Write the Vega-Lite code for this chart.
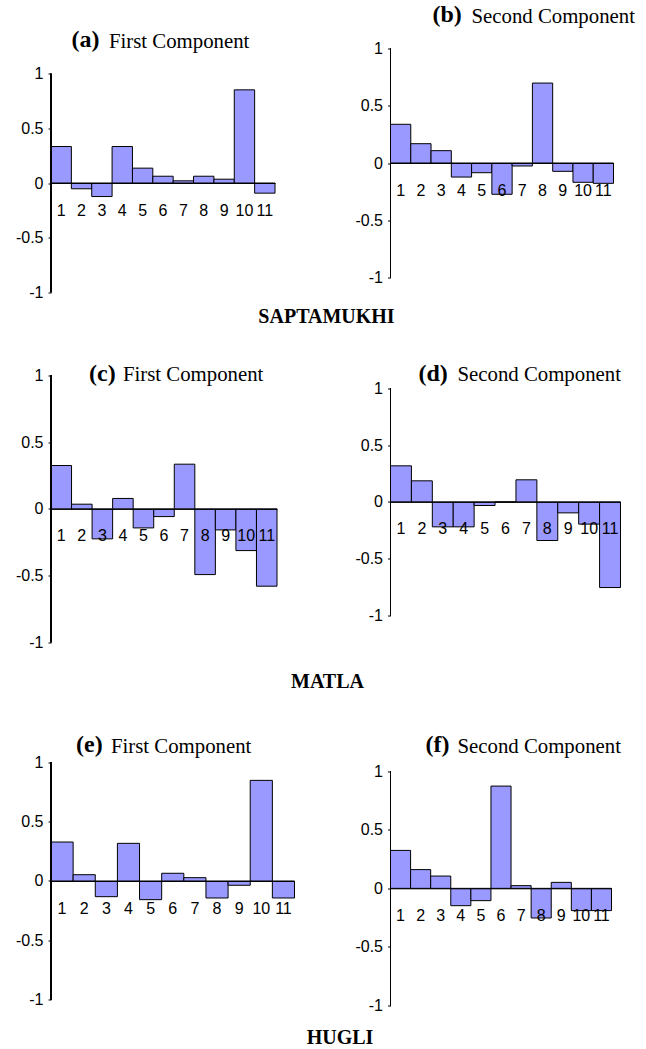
{
"$schema": "https://vega.github.io/schema/vega-lite/v6.json",
"padding": {"left": 15, "top": 2.5, "right": 0, "bottom": 0},
"config": {"view": {"stroke": null}, "font": "Liberation Sans"},
"datasets": {"loadings": [
{"p":"a","v":1,"value":0.334},{"p":"a","v":2,"value":-0.053},{"p":"a","v":3,"value":-0.124},{"p":"a","v":4,"value":0.334},{"p":"a","v":5,"value":0.136},{"p":"a","v":6,"value":0.062},{"p":"a","v":7,"value":0.02},{"p":"a","v":8,"value":0.062},{"p":"a","v":9,"value":0.035},{"p":"a","v":10,"value":0.853},{"p":"a","v":11,"value":-0.093},
{"p":"b","v":1,"value":0.339},{"p":"b","v":2,"value":0.169},{"p":"b","v":3,"value":0.108},{"p":"b","v":4,"value":-0.123},{"p":"b","v":5,"value":-0.085},{"p":"b","v":6,"value":-0.274},{"p":"b","v":7,"value":-0.026},{"p":"b","v":8,"value":0.70},{"p":"b","v":9,"value":-0.073},{"p":"b","v":10,"value":-0.169},{"p":"b","v":11,"value":-0.178},
{"p":"c","v":1,"value":0.325},{"p":"c","v":2,"value":0.035},{"p":"c","v":3,"value":-0.225},{"p":"c","v":4,"value":0.078},{"p":"c","v":5,"value":-0.143},{"p":"c","v":6,"value":-0.058},{"p":"c","v":7,"value":0.335},{"p":"c","v":8,"value":-0.493},{"p":"c","v":9,"value":-0.158},{"p":"c","v":10,"value":-0.313},{"p":"c","v":11,"value":-0.58},
{"p":"d","v":1,"value":0.317},{"p":"d","v":2,"value":0.185},{"p":"d","v":3,"value":-0.22},{"p":"d","v":4,"value":-0.22},{"p":"d","v":5,"value":-0.032},{"p":"d","v":6,"value":0},{"p":"d","v":7,"value":0.194},{"p":"d","v":8,"value":-0.34},{"p":"d","v":9,"value":-0.097},{"p":"d","v":10,"value":-0.196},{"p":"d","v":11,"value":-0.754},
{"p":"e","v":1,"value":0.328},{"p":"e","v":2,"value":0.053},{"p":"e","v":3,"value":-0.132},{"p":"e","v":4,"value":0.317},{"p":"e","v":5,"value":-0.157},{"p":"e","v":6,"value":0.065},{"p":"e","v":7,"value":0.028},{"p":"e","v":8,"value":-0.143},{"p":"e","v":9,"value":-0.036},{"p":"e","v":10,"value":0.847},{"p":"e","v":11,"value":-0.143},
{"p":"f","v":1,"value":0.324},{"p":"f","v":2,"value":0.16},{"p":"f","v":3,"value":0.105},{"p":"f","v":4,"value":-0.148},{"p":"f","v":5,"value":-0.105},{"p":"f","v":6,"value":0.873},{"p":"f","v":7,"value":0.023},{"p":"f","v":8,"value":-0.253},{"p":"f","v":9,"value":0.051},{"p":"f","v":10,"value":-0.19},{"p":"f","v":11,"value":-0.19}
]},
"columns": 2,
"bounds": "flush",
"spacing": {"row": 0, "column": 95.5},
"concat": [
{
 "width": 224, "height": 335,
 "data": {"name": "loadings"},
 "transform": [{"filter": "datum.p === 'a'"}],
 "title": {"text": "(a)", "font": "Liberation Serif", "fontSize": 24, "fontWeight": "bold", "color": "black", "anchor": "start", "frame": "group", "orient": "top", "dx": 20.5, "offset": -65.5, "baseline": "alphabetic"},
 "layer": [
  {"mark": {"type": "bar", "fill": "#9999FF", "stroke": "black", "strokeWidth": 1},
   "encoding": {
    "x": {"field": "v", "type": "ordinal", "scale": {"paddingInner": 0, "paddingOuter": 0},
     "axis": {"orient": "bottom", "offset": -157.5, "zindex": 1, "domain": true, "domainColor": "black", "ticks": false, "labelAngle": 0, "labelFont": "Liberation Sans", "labelFontSize": 16, "labelColor": "black", "labelPadding": 19, "title": "SAPTAMUKHI", "titleX": 275, "titleY": 139, "titleAlign": "center", "titleBaseline": "alphabetic", "titleFont": "Liberation Serif", "titleFontSize": 20, "titleFontWeight": "bold", "titleColor": "black"}},
    "y": {"field": "value", "type": "quantitative", "scale": {"domain": [-1.4423, 1.6255], "nice": false, "zero": false},
     "axis": {"values": [-1, -0.5, 0, 0.5, 1], "labelExpr": "datum.value + ''", "domain": false, "grid": false, "ticks": true, "tickSize": 3, "tickColor": "black", "labelPadding": 5, "labelFont": "Liberation Sans", "labelFontSize": 16, "labelColor": "black", "labelFlush": false, "labelOverlap": false, "title": "First Component", "titleAngle": 0, "titleX": 57.5, "titleY": 41.5, "titleAlign": "left", "titleBaseline": "alphabetic", "titleFont": "Liberation Serif", "titleFontSize": 20.8, "titleFontWeight": "normal", "titleColor": "black"}},
    "y2": {"datum": 0}
   }},
  {"mark": {"type": "rule", "color": "black", "strokeWidth": 1},
   "encoding": {"x": {"datum": 1, "type": "ordinal", "bandPosition": 0}, "y": {"datum": -1}, "y2": {"datum": 1}}}
 ]
},
{
 "width": 223, "height": 335,
 "data": {"name": "loadings"},
 "transform": [{"filter": "datum.p === 'b'"}],
 "title": {"text": "(b)", "font": "Liberation Serif", "fontSize": 24, "fontWeight": "bold", "color": "black", "anchor": "start", "frame": "group", "orient": "top", "dx": 42, "offset": -40.7, "baseline": "alphabetic"},
 "layer": [
  {"mark": {"type": "bar", "fill": "#9999FF", "stroke": "black", "strokeWidth": 1},
   "encoding": {
    "x": {"field": "v", "type": "ordinal", "scale": {"paddingInner": 0, "paddingOuter": 0},
     "axis": {"orient": "bottom", "offset": -177.5, "zindex": 1, "domain": true, "domainColor": "black", "ticks": false, "labelAngle": 0, "labelFont": "Liberation Sans", "labelFontSize": 16, "labelColor": "black", "labelPadding": 19, "title": null}},
    "y": {"field": "value", "type": "quantitative", "scale": {"domain": [-1.5543, 1.3792], "nice": false, "zero": false},
     "axis": {"values": [-1, -0.5, 0, 0.5, 1], "labelExpr": "datum.value + ''", "domain": false, "grid": false, "ticks": true, "tickSize": 3, "tickColor": "black", "labelPadding": 5, "labelFont": "Liberation Sans", "labelFontSize": 16, "labelColor": "black", "labelFlush": false, "labelOverlap": false, "title": "Second Component", "titleAngle": 0, "titleX": 80.5, "titleY": 16.7, "titleAlign": "left", "titleBaseline": "alphabetic", "titleFont": "Liberation Serif", "titleFontSize": 20.8, "titleFontWeight": "normal", "titleColor": "black"}},
    "y2": {"datum": 0}
   }},
  {"mark": {"type": "rule", "color": "black", "strokeWidth": 1},
   "encoding": {"x": {"datum": 1, "type": "ordinal", "bandPosition": 0}, "y": {"datum": -1}, "y2": {"datum": 1}}}
 ]
},
{
 "width": 226, "height": 380,
 "data": {"name": "loadings"},
 "transform": [{"filter": "datum.p === 'c'"}],
 "title": {"text": "(c)", "font": "Liberation Serif", "fontSize": 24, "fontWeight": "bold", "color": "black", "anchor": "start", "frame": "group", "orient": "top", "dx": 38, "offset": -64, "baseline": "alphabetic"},
 "layer": [
  {"mark": {"type": "bar", "fill": "#9999FF", "stroke": "black", "strokeWidth": 1},
   "encoding": {
    "x": {"field": "v", "type": "ordinal", "scale": {"paddingInner": 0, "paddingOuter": 0},
     "axis": {"orient": "bottom", "offset": -211.6, "zindex": 1, "domain": true, "domainColor": "black", "ticks": false, "labelAngle": 0, "labelFont": "Liberation Sans", "labelFontSize": 16, "labelColor": "black", "labelPadding": 19, "title": "MATLA", "titleX": 276, "titleY": 178.3, "titleAlign": "center", "titleBaseline": "alphabetic", "titleFont": "Liberation Serif", "titleFontSize": 20, "titleFontWeight": "bold", "titleColor": "black"}},
    "y": {"field": "value", "type": "quantitative", "scale": {"domain": [-1.5872, 1.2625], "nice": false, "zero": false},
     "axis": {"values": [-1, -0.5, 0, 0.5, 1], "labelExpr": "datum.value + ''", "domain": false, "grid": false, "ticks": true, "tickSize": 3, "tickColor": "black", "labelPadding": 5, "labelFont": "Liberation Sans", "labelFontSize": 16, "labelColor": "black", "labelFlush": false, "labelOverlap": false, "title": "First Component", "titleAngle": 0, "titleX": 71.5, "titleY": 40, "titleAlign": "left", "titleBaseline": "alphabetic", "titleFont": "Liberation Serif", "titleFontSize": 20.8, "titleFontWeight": "normal", "titleColor": "black"}},
    "y2": {"datum": 0}
   }},
  {"mark": {"type": "rule", "color": "black", "strokeWidth": 1},
   "encoding": {"x": {"datum": 1, "type": "ordinal", "bandPosition": 0}, "y": {"datum": -1}, "y2": {"datum": 1}}}
 ]
},
{
 "width": 230, "height": 380,
 "data": {"name": "loadings"},
 "transform": [{"filter": "datum.p === 'd'"}],
 "title": {"text": "(d)", "font": "Liberation Serif", "fontSize": 24, "fontWeight": "bold", "color": "black", "anchor": "start", "frame": "group", "orient": "top", "dx": 28, "offset": -64, "baseline": "alphabetic"},
 "layer": [
  {"mark": {"type": "bar", "fill": "#9999FF", "stroke": "black", "strokeWidth": 1},
   "encoding": {
    "x": {"field": "v", "type": "ordinal", "scale": {"paddingInner": 0, "paddingOuter": 0},
     "axis": {"orient": "bottom", "offset": -218.6, "zindex": 1, "domain": true, "domainColor": "black", "ticks": false, "labelAngle": 0, "labelFont": "Liberation Sans", "labelFontSize": 16, "labelColor": "black", "labelPadding": 19, "title": null}},
    "y": {"field": "value", "type": "quantitative", "scale": {"domain": [-1.9239, 1.4197], "nice": false, "zero": false},
     "axis": {"values": [-1, -0.5, 0, 0.5, 1], "labelExpr": "datum.value + ''", "domain": false, "grid": false, "ticks": true, "tickSize": 3, "tickColor": "black", "labelPadding": 5, "labelFont": "Liberation Sans", "labelFontSize": 16, "labelColor": "black", "labelFlush": false, "labelOverlap": false, "title": "Second Component", "titleAngle": 0, "titleX": 66.5, "titleY": 40, "titleAlign": "left", "titleBaseline": "alphabetic", "titleFont": "Liberation Serif", "titleFontSize": 20.8, "titleFontWeight": "normal", "titleColor": "black"}},
    "y2": {"datum": 0}
   }},
  {"mark": {"type": "rule", "color": "black", "strokeWidth": 1},
   "encoding": {"x": {"datum": 1, "type": "ordinal", "bandPosition": 0}, "y": {"datum": -1}, "y2": {"datum": 1}}}
 ]
},
{
 "width": 243.5, "height": 295,
 "data": {"name": "loadings"},
 "transform": [{"filter": "datum.p === 'e'"}],
 "title": {"text": "(e)", "font": "Liberation Serif", "fontSize": 24, "fontWeight": "bold", "color": "black", "anchor": "start", "frame": "group", "orient": "top", "dx": 25, "offset": -55.7, "baseline": "alphabetic"},
 "layer": [
  {"mark": {"type": "bar", "fill": "#9999FF", "stroke": "black", "strokeWidth": 1},
   "encoding": {
    "x": {"field": "v", "type": "ordinal", "scale": {"paddingInner": 0, "paddingOuter": 0},
     "axis": {"orient": "bottom", "offset": -134.5, "zindex": 1, "domain": true, "domainColor": "black", "ticks": false, "labelAngle": 0, "labelFont": "Liberation Sans", "labelFontSize": 16, "labelColor": "black", "labelPadding": 19, "title": "HUGLI", "titleX": 288.5, "titleY": 162.5, "titleAlign": "center", "titleBaseline": "alphabetic", "titleFont": "Liberation Serif", "titleFontSize": 20, "titleFontWeight": "bold", "titleColor": "black"}},
    "y": {"field": "value", "type": "quantitative", "scale": {"domain": [-1.1322, 1.351], "nice": false, "zero": false},
     "axis": {"values": [-1, -0.5, 0, 0.5, 1], "labelExpr": "datum.value + ''", "domain": false, "grid": false, "ticks": true, "tickSize": 3, "tickColor": "black", "labelPadding": 5, "labelFont": "Liberation Sans", "labelFontSize": 16, "labelColor": "black", "labelFlush": false, "labelOverlap": false, "title": "First Component", "titleAngle": 0, "titleX": 59.5, "titleY": 31.7, "titleAlign": "left", "titleBaseline": "alphabetic", "titleFont": "Liberation Serif", "titleFontSize": 20.8, "titleFontWeight": "normal", "titleColor": "black"}},
    "y2": {"datum": 0}
   }},
  {"mark": {"type": "rule", "color": "black", "strokeWidth": 1},
   "encoding": {"x": {"datum": 1, "type": "ordinal", "bandPosition": 0}, "y": {"datum": -1}, "y2": {"datum": 1}}}
 ]
},
{
 "width": 221, "height": 295,
 "data": {"name": "loadings"},
 "transform": [{"filter": "datum.p === 'f'"}],
 "title": {"text": "(f)", "font": "Liberation Serif", "fontSize": 24, "fontWeight": "bold", "color": "black", "anchor": "start", "frame": "group", "orient": "top", "dx": 35, "offset": -55.7, "baseline": "alphabetic"},
 "layer": [
  {"mark": {"type": "bar", "fill": "#9999FF", "stroke": "black", "strokeWidth": 1},
   "encoding": {
    "x": {"field": "v", "type": "ordinal", "scale": {"paddingInner": 0, "paddingOuter": 0},
     "axis": {"orient": "bottom", "offset": -127.2, "zindex": 1, "domain": true, "domainColor": "black", "ticks": false, "labelAngle": 0, "labelFont": "Liberation Sans", "labelFontSize": 16, "labelColor": "black", "labelPadding": 19, "title": null}},
    "y": {"field": "value", "type": "quantitative", "scale": {"domain": [-1.0854, 1.4328], "nice": false, "zero": false},
     "axis": {"values": [-1, -0.5, 0, 0.5, 1], "labelExpr": "datum.value + ''", "domain": false, "grid": false, "ticks": true, "tickSize": 3, "tickColor": "black", "labelPadding": 5, "labelFont": "Liberation Sans", "labelFontSize": 16, "labelColor": "black", "labelFlush": false, "labelOverlap": false, "title": "Second Component", "titleAngle": 0, "titleX": 66.5, "titleY": 31.7, "titleAlign": "left", "titleBaseline": "alphabetic", "titleFont": "Liberation Serif", "titleFontSize": 20.8, "titleFontWeight": "normal", "titleColor": "black"}},
    "y2": {"datum": 0}
   }},
  {"mark": {"type": "rule", "color": "black", "strokeWidth": 1},
   "encoding": {"x": {"datum": 1, "type": "ordinal", "bandPosition": 0}, "y": {"datum": -1}, "y2": {"datum": 1}}}
 ]
}
]
}
